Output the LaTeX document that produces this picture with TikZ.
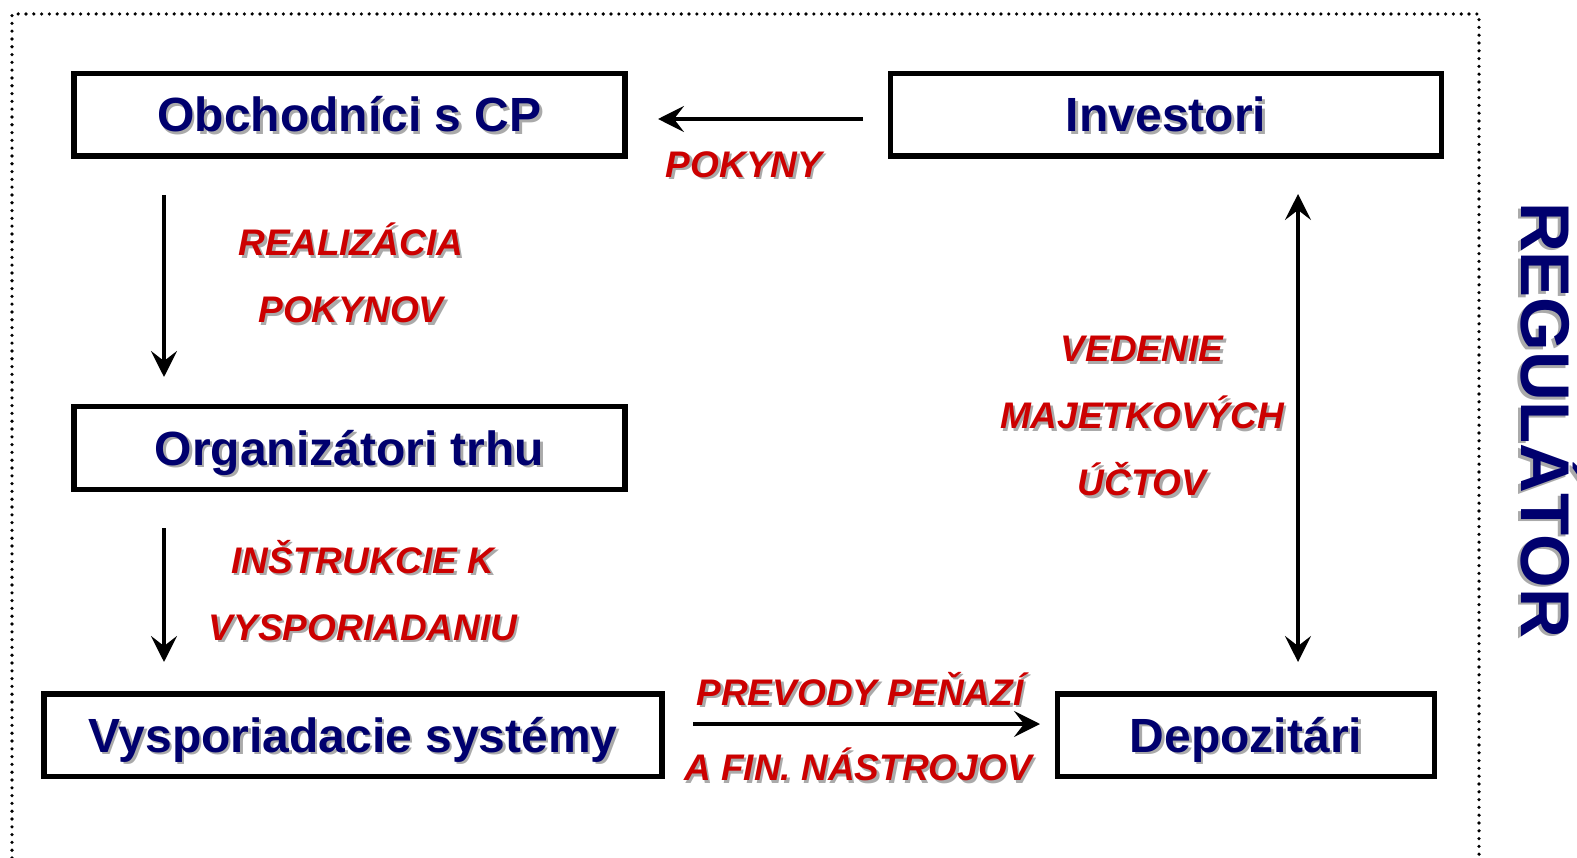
\documentclass[tikz,border=0pt]{standalone}
\usepackage{fontspec}
\setmainfont{Liberation Sans}
\usetikzlibrary{arrows.meta}
\definecolor{navy}{RGB}{0,0,110}
\definecolor{labred}{RGB}{204,0,0}
\definecolor{shadowgray}{RGB}{170,170,170}
\newcommand\sh[1]{\leavevmode\rlap{\raisebox{-2.5pt}{\kern2.5pt\textcolor{shadowgray}{#1}}}#1}
\tikzset{
  boxnode/.style={draw=black, line width=5.5pt, fill=white, rectangle, inner sep=0pt,
    text=navy, font=\fontsize{48}{52}\selectfont\bfseries, text height=34pt, text depth=0pt},
  lab/.style={text=labred, align=center, inner sep=0pt,
    font=\fontsize{37}{67}\selectfont\bfseries\itshape},
  arr/.style={line width=3.3pt, -{Stealth[length=26pt,width=26pt,inset=10pt]}},
  darr/.style={line width=3.3pt, {Stealth[length=26pt,width=26pt,inset=10pt]}-{Stealth[length=26pt,width=26pt,inset=10pt]}},
  frame/.style={line width=3.6pt, dash pattern=on 0pt off 7.8pt, line cap=round}
}
\begin{document}
\begin{tikzpicture}[x=1pt,y=-1pt]
\fill[white] (0,0) rectangle (1577,858);
\useasboundingbox (0,0) rectangle (1577,858);
\draw[frame] (12,858) -- (12,14) -- (1479,14) -- (1479,858);

\node[boxnode, minimum width=551pt, minimum height=82.5pt] (obch) at (349.5,115) {\sh{Obchodníci s CP}};
\node[boxnode, minimum width=551pt, minimum height=82.5pt] (inv) at (1166,115) {\sh{Investori}};
\node[boxnode, minimum width=551pt, minimum height=82.5pt] (org) at (349.5,448) {\sh{Organizátori trhu}};
\node[boxnode, minimum width=618pt, minimum height=82.5pt] (vys) at (353,735) {\sh{Vysporiadacie systémy}};
\node[boxnode, minimum width=377pt, minimum height=82.5pt] (dep) at (1246,735) {\sh{Depozitári}};

\coordinate (a1s) at (863,119);
\coordinate (a1e) at (658,119);
\coordinate (a2s) at (164,195);
\coordinate (a2e) at (164,377);
\coordinate (a3s) at (164,528);
\coordinate (a3e) at (164,662);
\coordinate (a4s) at (1298,194);
\coordinate (a4e) at (1298,662);
\coordinate (a5s) at (693,724);
\coordinate (a5e) at (1040,724);

\draw[arr] (a1s) -- (a1e);
\draw[arr] (a2s) -- (a2e);
\draw[arr] (a3s) -- (a3e);
\draw[darr] (a4s) -- (a4e);
\draw[arr] (a5s) -- (a5e);

\node[lab] (l1) at (744,166) {\sh{POKYNY}};
\node[lab, anchor=north] (l2) at (351,223) {\sh{REALIZÁCIA}\\\sh{POKYNOV}};
\node[lab, anchor=north] (l3) at (363,540) {\sh{INŠTRUKCIE K}\\\sh{VYSPORIADANIU}};
\node[lab, anchor=north] (l4) at (1142,336) {\sh{VEDENIE}\\\sh{MAJETKOVÝCH}\\\sh{ÚČTOV}};
\node[lab] (l5) at (860,690) {\sh{PREVODY PEŇAZÍ}};
\node[lab] (l6) at (858,766) {\sh{A FIN. NÁSTROJOV}};
\node[rotate=-90, text=navy, font=\fontsize{69}{72}\selectfont\bfseries, inner sep=0pt] (reg) at (1550,420) {\sh{REGULÁTOR}};
\end{tikzpicture}
\end{document}
